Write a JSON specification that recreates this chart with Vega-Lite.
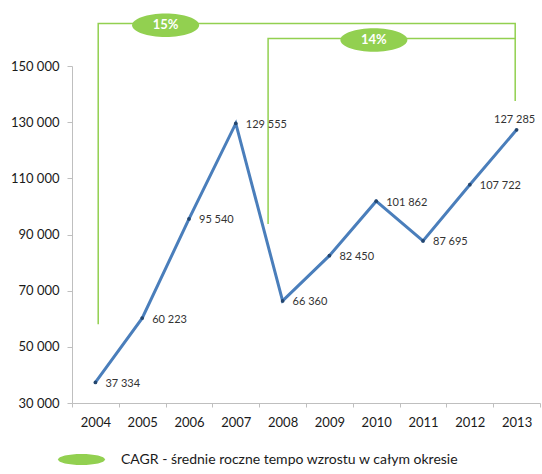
{
  "$schema": "https://vega.github.io/schema/vega-lite/v6.json",
  "width": 468,
  "height": 337,
  "autosize": {"type": "none"},
  "padding": {"left": 72, "top": 66, "right": 2, "bottom": 71},
  "background": "white",
  "config": {
    "view": {"stroke": null},
    "locale": {"number": {"decimal": ",", "thousands": " ", "grouping": [3], "currency": ["", " zł"]}},
    "font": "Lato"
  },
  "datasets": {
    "series": [
      {"year": 2004, "value": 37334},
      {"year": 2005, "value": 60223},
      {"year": 2006, "value": 95540},
      {"year": 2007, "value": 129555},
      {"year": 2008, "value": 66360},
      {"year": 2009, "value": 82450},
      {"year": 2010, "value": 101862},
      {"year": 2011, "value": 87695},
      {"year": 2012, "value": 107722},
      {"year": 2013, "value": 127285}
    ],
    "brackets": [
      {"bracket": "15%", "seq": 0, "year": 2004.06, "value": 58000},
      {"bracket": "15%", "seq": 1, "year": 2004.06, "value": 165100},
      {"bracket": "15%", "seq": 2, "year": 2012.97, "value": 165100},
      {"bracket": "15%", "seq": 3, "year": 2012.97, "value": 137500},
      {"bracket": "14%", "seq": 0, "year": 2007.69, "value": 93700},
      {"bracket": "14%", "seq": 1, "year": 2007.69, "value": 159800},
      {"bracket": "14%", "seq": 2, "year": 2012.97, "value": 159800}
    ],
    "cagr": [
      {"label": "15%", "year": 2005.5, "value": 164500, "series": "CAGR - średnie roczne tempo wzrostu w całym okresie"},
      {"label": "14%", "year": 2009.95, "value": 159250, "series": "CAGR - średnie roczne tempo wzrostu w całym okresie"}
    ]
  },
  "encoding": {
    "x": {
      "field": "year",
      "type": "quantitative",
      "scale": {"domain": [2003.5, 2013.5], "nice": false, "zero": false},
      "axis": {
        "title": null,
        "grid": false,
        "values": [2003.5, 2004, 2004.5, 2005, 2005.5, 2006, 2006.5, 2007, 2007.5, 2008, 2008.5, 2009, 2009.5, 2010, 2010.5, 2011, 2011.5, 2012, 2012.5, 2013, 2013.5],
        "labelExpr": "datum.value % 1 === 0 ? '' + datum.value : ''",
        "tickOpacity": {"condition": {"test": "datum.value % 1 === 0", "value": 0}, "value": 1},
        "labelFlush": false,
        "labelOverlap": false,
        "labelBound": false,
        "tickSize": 4,
        "labelPadding": 9,
        "labelFontSize": 13,
        "labelColor": "#1a1a1a",
        "domainColor": "#bfbfbf",
        "tickColor": "#bfbfbf"
      }
    },
    "y": {
      "field": "value",
      "type": "quantitative",
      "scale": {"domain": [30000, 150000], "nice": false, "zero": false},
      "axis": {
        "title": null,
        "grid": false,
        "values": [30000, 50000, 70000, 90000, 110000, 130000, 150000],
        "format": ",d",
        "tickSize": 5,
        "labelPadding": 8,
        "labelFontSize": 13,
        "labelColor": "#1a1a1a",
        "domainColor": "#bfbfbf",
        "tickColor": "#bfbfbf"
      }
    }
  },
  "layer": [
    {
      "data": {"name": "brackets"},
      "mark": {"type": "line", "color": "#92d050", "strokeWidth": 1.5},
      "encoding": {
        "detail": {"field": "bracket"},
        "order": {"field": "seq", "type": "quantitative"}
      }
    },
    {
      "data": {"name": "series"},
      "mark": {"type": "line", "color": "#4a7ebb", "strokeWidth": 3},
      "encoding": {}
    },
    {
      "data": {"name": "series"},
      "mark": {"type": "point", "filled": true, "color": "#24466e", "size": 14, "opacity": 1},
      "encoding": {}
    },
    {
      "data": {"name": "series"},
      "transform": [{"filter": "datum.year != 2013"}],
      "mark": {"type": "text", "align": "left", "baseline": "middle", "dx": 10, "dy": 1.5, "fontSize": 11, "color": "#333333"},
      "encoding": {"text": {"field": "value", "type": "quantitative", "format": ",d"}}
    },
    {
      "data": {"name": "series"},
      "transform": [{"filter": "datum.year == 2013"}],
      "mark": {"type": "text", "align": "center", "baseline": "middle", "dx": -2, "dy": -10, "fontSize": 11, "color": "#333333"},
      "encoding": {"text": {"field": "value", "type": "quantitative", "format": ",d"}}
    },
    {
      "data": {"name": "cagr"},
      "mark": {
        "type": "point",
        "filled": true,
        "opacity": 1,
        "size": 4489,
        "shape": "M-1,0 C-1,-0.193 -0.5523,-0.35 0,-0.35 C0.5523,-0.35 1,-0.193 1,0 C1,0.193 0.5523,0.35 0,0.35 C-0.5523,0.35 -1,0.193 -1,0 Z"
      },
      "encoding": {
        "color": {
          "field": "series",
          "type": "nominal",
          "scale": {"range": ["#92d050"]},
          "legend": {
            "title": null,
            "orient": "none",
            "legendX": -14,
            "legendY": 370,
            "padding": 0,
            "symbolType": "M-1,0 C-1,-0.129 -0.5523,-0.234 0,-0.234 C0.5523,-0.234 1,-0.129 1,0 C1,0.129 0.5523,0.234 0,0.234 C-0.5523,0.234 -1,0.129 -1,0 Z",
            "symbolSize": 2209,
            "symbolStrokeWidth": 0,
            "symbolOpacity": 1,
            "labelOffset": 16,
            "labelFontSize": 14,
            "labelFont": "Lato",
            "labelColor": "#1a1a1a",
            "labelLimit": 500
          }
        }
      }
    },
    {
      "data": {"name": "cagr"},
      "mark": {"type": "text", "align": "center", "baseline": "middle", "fontSize": 13, "fontWeight": "bold", "color": "white"},
      "encoding": {"text": {"field": "label"}}
    }
  ]
}
